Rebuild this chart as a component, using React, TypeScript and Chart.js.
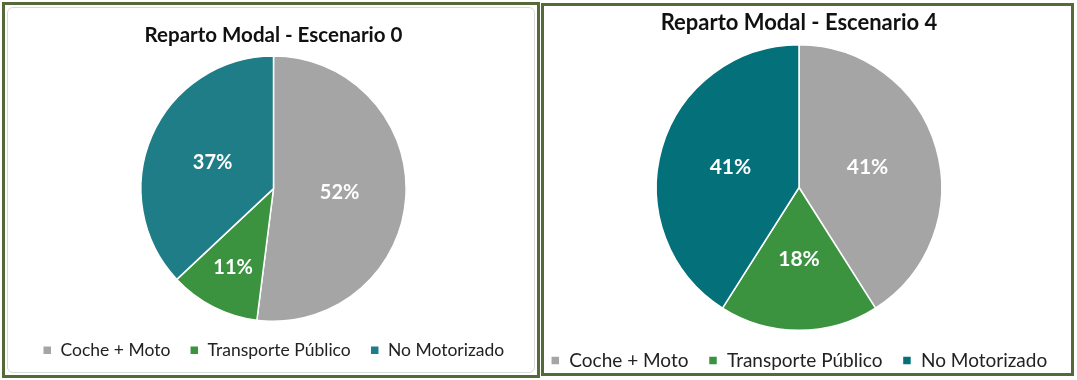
import React, { useEffect, useRef } from "react";
import { Chart, registerables } from "chart.js";

Chart.register(...registerables);

const categories = ["Coche + Moto", "Transporte Público", "No Motorizado"];
const escenario0 = [52, 11, 37];
const escenario4 = [41, 18, 41];
const title0 = "Reparto Modal - Escenario 0";
const title4 = "Reparto Modal - Escenario 4";
const colors0 = ["#a5a5a5", "#3b923f", "#1e7d86"];
const colors4 = ["#a5a5a5", "#3b923f", "#03707a"];

const FONT = "Lato, 'Open Sans', sans-serif";

const labelPlugin = (fontSize: number) => ({
  id: "pieLabels",
  afterDatasetsDraw(chart: any) {
    const ctx = chart.ctx;
    const meta = chart.getDatasetMeta(0);
    const data = chart.data.datasets[0].data as number[];
    ctx.save();
    ctx.fillStyle = "#ffffff";
    ctx.font = `bold ${fontSize}px ${FONT}`;
    ctx.textAlign = "center";
    ctx.textBaseline = "middle";
    meta.data.forEach((arc: any, i: number) => {
      const { x, y, startAngle, endAngle, outerRadius } = arc.getProps(
        ["x", "y", "startAngle", "endAngle", "outerRadius"],
        true
      );
      const mid = (startAngle + endAngle) / 2;
      const f = data[i] < 15 ? 0.67 : 0.5;
      ctx.fillText(
        `${data[i]}%`,
        x + Math.cos(mid) * outerRadius * f,
        y + Math.sin(mid) * outerRadius * f
      );
    });
    ctx.restore();
  },
});

type PieProps = {
  values: number[];
  colors: string[];
  title: string;
  left: number;
  top: number;
  width: number;
  height: number;
  titleSize: number;
  labelSize: number;
  legendSize: number;
  titleTop: number;
  titleBottom: number;
  legendPadding: number;
  layoutPadding: { left: number; right: number; top: number; bottom: number };
};

function PieChart(p: PieProps) {
  const ref = useRef<HTMLCanvasElement>(null);
  useEffect(() => {
    if (!ref.current) return;
    const chart = new Chart(ref.current, {
      type: "pie",
      data: {
        labels: categories,
        datasets: [
          {
            data: p.values,
            backgroundColor: p.colors,
            borderColor: "#ffffff",
            borderWidth: 1.5,
          },
        ],
      },
      options: {
        responsive: false,
        animation: false,
        devicePixelRatio: 1,
        layout: { padding: p.layoutPadding },
        plugins: {
          tooltip: { enabled: false },
          title: {
            display: true,
            text: p.title,
            color: "#111111",
            font: { family: FONT, size: p.titleSize, weight: "bold", lineHeight: 1.2 },
            padding: { top: p.titleTop, bottom: p.titleBottom },
          },
          legend: {
            display: true,
            position: "bottom",
            labels: {
              color: "#222222",
              font: { family: FONT, size: p.legendSize },
              boxWidth: 9,
              boxHeight: 9,
              padding: p.legendPadding,
            },
          },
        },
      },
      plugins: [labelPlugin(p.labelSize)],
    });
    return () => chart.destroy();
  }, []);
  return (
    <canvas
      ref={ref}
      width={p.width}
      height={p.height}
      style={{
        position: "absolute",
        left: p.left,
        top: p.top,
        width: p.width,
        height: p.height,
        display: "block",
      }}
    />
  );
}

export default function App() {
  const border = "3px solid #56693a";
  return (
    <div
      style={{
        position: "fixed",
        left: 0,
        top: 0,
        width: 1077,
        height: 380,
        background: "#ffffff",
        overflow: "hidden",
      }}
    >
      <div
        style={{
          position: "absolute",
          left: 2,
          top: 2,
          width: 532,
          height: 370,
          border,
        }}
      >
        <div
          style={{
            position: "absolute",
            left: 2,
            top: 2,
            right: 2,
            bottom: 2,
            border: "1px solid #d9d9d9",
            borderRadius: 6,
          }}
        />
      </div>
      <div
        style={{
          position: "absolute",
          left: 541,
          top: 3,
          width: 527,
          height: 367,
          border,
        }}
      />
      <PieChart
        values={escenario0}
        colors={colors0}
        title={title0}
        left={5}
        top={5}
        width={532}
        height={364}
        titleSize={20.5}
        labelSize={20}
        legendSize={17.5}
        titleTop={17.7}
        titleBottom={8}
        legendPadding={19.5}
        layoutPadding={{ left: 5, right: 0, top: 0, bottom: 0 }}
      />
      <PieChart
        values={escenario4}
        colors={colors4}
        title={title4}
        left={530}
        top={6}
        width={547}
        height={374}
        titleSize={22}
        labelSize={21}
        legendSize={19}
        titleTop={4}
        titleBottom={7.6}
        legendPadding={20}
        layoutPadding={{ left: 0, right: 9, top: 0, bottom: 0 }}
      />
    </div>
  );
}
